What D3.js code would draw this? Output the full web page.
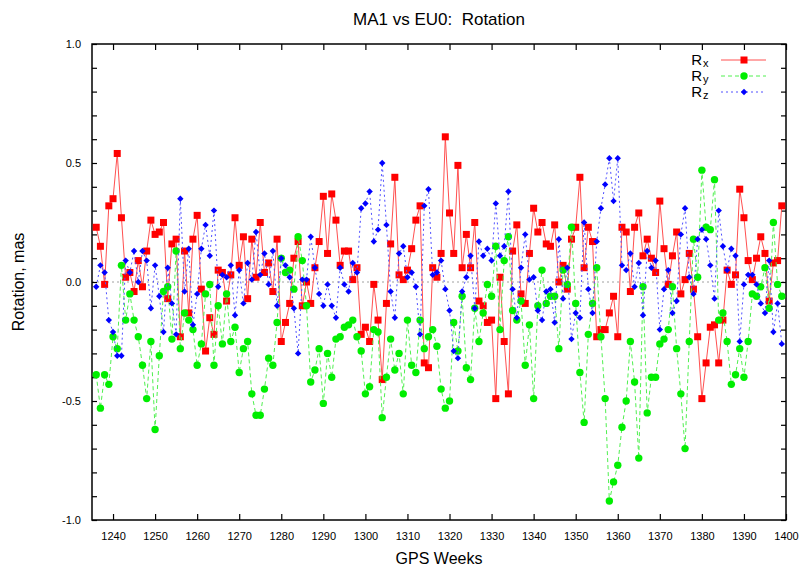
<html>
    <head>
        <meta charset="utf-8">
        <script src="https://d3js.org/d3.v7.min.js"></script>
        <title>MA1 vs EU0: Rotation</title>
        <style>
            body { margin: 0; background: white; }
            text { font-family: "Liberation Sans", Arial, sans-serif; }
        </style>
    </head>
    <body>
        <svg id="chart" height="569" width="801"></svg>
        <script>
            // GPS weeks and the three rotation series (mas)
            const weeks = [
                1236,1237,1238,1239,1240,1241,1242,1243,1244,1245,
                1246,1247,1248,1249,1250,1251,1252,1253,1254,1255,
                1256,1257,1258,1259,1260,1261,1262,1263,1264,1265,
                1266,1267,1268,1269,1270,1271,1272,1273,1274,1275,
                1276,1277,1278,1279,1280,1281,1282,1283,1284,1285,
                1286,1287,1288,1289,1290,1291,1292,1293,1294,1295,
                1296,1297,1298,1299,1300,1301,1302,1303,1304,1305,
                1306,1307,1308,1309,1310,1311,1312,1313,1314,1315,
                1316,1317,1318,1319,1320,1321,1322,1323,1324,1325,
                1326,1327,1328,1329,1330,1331,1332,1333,1334,1335,
                1336,1337,1338,1339,1340,1341,1342,1343,1344,1345,
                1346,1347,1348,1349,1350,1351,1352,1353,1354,1355,
                1356,1357,1358,1359,1360,1361,1362,1363,1364,1365,
                1366,1367,1368,1369,1370,1371,1372,1373,1374,1375,
                1376,1377,1378,1379,1380,1381,1382,1383,1384,1385,
                1386,1387,1388,1389,1390,1391,1392,1393,1394,1395,
                1396,1397,1398,1399
            ];
            const rx = [
                0.23, 0.15, -0.01, 0.32, 0.35, 0.54, 0.27, 0.02, 0.04, -0.04,
                0.09, -0.02, 0.13, 0.26, 0.20, 0.21, 0.25, -0.07, 0.16, 0.18,
                -0.23, 0.13, -0.13, 0.18, 0.28, -0.03, -0.29, -0.15, -0.22, 0.05,
                0.04, -0.08, 0.03, 0.27, 0.07, 0.19, -0.07, 0.18, 0.02, 0.25,
                0.04, 0.08, -0.04, 0.18, -0.25, -0.17, -0.09, 0.10, 0.17, -0.10,
                0.00, -0.09, 0.06, 0.17, 0.36, 0.12, 0.37, 0.26, 0.07, 0.13,
                0.13, 0.01, 0.06, -0.22, -0.19, -0.25, -0.01, -0.16, -0.41, -0.09,
                0.16, 0.44, 0.03, 0.01, 0.05, 0.14, 0.26, 0.32, -0.34, -0.36,
                0.06, 0.02, 0.12, 0.61, 0.29, 0.12, 0.49, 0.06, 0.20, 0.06,
                0.25, -0.08, -0.10, -0.17, -0.16, -0.49, 0.02, -0.25, -0.47, 0.13,
                0.24, -0.05, -0.09, 0.12, 0.31, 0.21, 0.25, 0.16, 0.15, 0.24,
                0.00, 0.07, -0.03, 0.18, 0.23, 0.44, 0.06, 0.23, 0.17, -0.23,
                -0.20, -0.20, -0.13, -0.06, -0.23, 0.23, 0.21, -0.04, 0.23, 0.29,
                0.11, 0.18, 0.10, 0.04, 0.34, 0.14, -0.01, 0.11, 0.21, -0.05,
                0.01, 0.12, -0.03, -0.23, -0.49, -0.34, -0.19, -0.18, -0.34, -0.16,
                0.05, -0.01, 0.03, 0.39, 0.27, 0.09, 0.01, 0.10, 0.19, 0.12,
                -0.08, 0.08, 0.09, 0.32
            ];
            const ry = [
                -0.39, -0.53, -0.39, -0.43, -0.23, -0.28, 0.07, -0.16, -0.05, -0.16,
                -0.23, -0.35, -0.49, -0.25, -0.62, -0.31, -0.04, -0.02, -0.24, 0.13,
                -0.28, -0.13, -0.16, -0.20, -0.35, -0.26, -0.05, -0.01, -0.35, -0.10,
                -0.26, -0.05, -0.25, -0.19, -0.38, -0.28, -0.25, -0.47, -0.56, -0.56,
                -0.45, -0.32, -0.35, -0.17, 0.10, 0.04, 0.05, -0.03, 0.19, 0.09,
                -0.10, -0.42, -0.37, -0.28, -0.51, -0.30, -0.40, -0.24, -0.23, -0.19,
                -0.18, -0.16, -0.23, -0.29, -0.47, -0.44, -0.20, -0.21, -0.57, -0.40,
                -0.24, -0.37, -0.30, -0.47, -0.16, -0.35, -0.38, -0.16, -0.28, -0.23,
                -0.20, -0.27, -0.45, -0.53, -0.50, -0.17, -0.29, -0.06, -0.36, -0.41,
                -0.11, -0.25, -0.13, -0.01, -0.06, 0.15, -0.20, 0.09, 0.19, -0.12,
                -0.16, -0.08, -0.35, -0.18, -0.49, -0.10, 0.05, -0.09, -0.06, -0.06,
                -0.28, 0.05, -0.01, 0.23, -0.09, -0.38, -0.59, -0.22, -0.09, 0.06,
                -0.23, -0.49, -0.92, -0.84, -0.77, -0.61, -0.50, -0.25, -0.42, -0.74,
                -0.02, -0.55, -0.40, -0.40, -0.26, -0.24, -0.20, -0.02, -0.28, -0.47,
                -0.70, -0.25, 0.18, 0.02, 0.47, 0.23, 0.22, 0.43, -0.16, -0.13,
                -0.25, -0.43, -0.39, -0.28, -0.40, -0.25, -0.05, -0.06, -0.02, 0.06,
                -0.11, 0.25, -0.01, -0.06
            ];
            const rz = [
                -0.02, 0.07, 0.04, -0.16, -0.21, -0.31, -0.31, 0.09, 0.04, 0.13,
                0.00, 0.13, 0.09, -0.11, 0.07, -0.06, -0.21, 0.06, -0.09, -0.22,
                0.35, -0.04, 0.14, -0.18, -0.05, 0.14, 0.24, 0.11, 0.30, -0.02,
                0.03, 0.02, 0.07, -0.14, 0.05, -0.09, 0.08, 0.01, 0.21, 0.03,
                0.12, -0.01, 0.13, -0.10, 0.10, 0.07, 0.02, -0.11, -0.30, 0.01,
                0.01, 0.19, 0.06, -0.05, -0.10, -0.01, -0.10, -0.15, 0.06, -0.01,
                -0.04, 0.08, 0.04, 0.31, 0.33, 0.38, 0.17, 0.22, 0.50, 0.24,
                -0.04, -0.15, 0.12, 0.15, 0.02, 0.04, -0.02, -0.22, 0.32, 0.39,
                0.03, 0.04, 0.09, -0.03, -0.12, -0.29, -0.32, -0.04, 0.02, 0.11,
                -0.11, 0.17, 0.11, 0.14, 0.09, 0.33, 0.11, 0.15, 0.38, -0.03,
                -0.15, 0.06, 0.20, 0.01, 0.02, -0.12, -0.16, -0.04, -0.03, -0.17,
                0.18, -0.07, 0.06, -0.24, -0.13, -0.15, 0.25, -0.03, -0.13, 0.17,
                0.31, 0.41, 0.52, 0.34, 0.52, 0.07, 0.05, 0.12, -0.02, 0.08,
                -0.14, 0.13, 0.06, 0.09, -0.20, -0.03, 0.05, -0.13, -0.08, 0.20,
                0.31, 0.02, -0.05, 0.18, 0.22, 0.18, 0.07, -0.07, 0.30, 0.15,
                0.05, 0.14, 0.11, -0.25, -0.01, 0.03, 0.03, -0.01, -0.09, -0.13,
                0.09, -0.21, -0.09, -0.26
            ];
            const xTicks = [1240, 1250, 1260, 1270, 1280, 1290, 1300, 1310, 1320, 1330, 1340, 1350, 1360, 1370, 1380, 1390, 1400];
            const yLabels = [-1.0, -0.5, 0.0, 0.5, 1.0];
            const seriesNames = ["x", "y", "z"];

            const svg = d3.select("#chart");
            const margin = { top: 44, right: 15, bottom: 49, left: 92 };
            const width = +svg.attr("width");
            const height = +svg.attr("height");
            const x0 = margin.left, x1 = width - margin.right;
            const y0 = margin.top, y1 = height - margin.bottom;

            const x = d3.scaleLinear().domain([1235, 1400]).range([x0, x1]);
            const y = d3.scaleLinear().domain([-1, 1]).range([y1, y0]);

            // title + axis titles
            svg.append("text")
               .attr("x", (x0 + x1) / 2).attr("y", 25)
               .attr("text-anchor", "middle")
               .attr("xml:space", "preserve")
               .style("white-space", "pre")
               .style("font-size", "17px")
               .text("MA1 vs EU0:  Rotation");
            svg.append("text")
               .attr("x", (x0 + x1) / 2).attr("y", 564)
               .attr("text-anchor", "middle")
               .style("font-size", "16px")
               .text("GPS Weeks");
            svg.append("text")
               .attr("transform", "translate(24," + ((y0 + y1) / 2) + ") rotate(-90)")
               .attr("text-anchor", "middle")
               .style("font-size", "16px")
               .text("Rotation, mas");

            // zero line
            svg.append("line")
               .attr("x1", x0).attr("x2", x1)
               .attr("y1", y(0)).attr("y2", y(0))
               .attr("stroke", "#a0a0a0")
               .attr("stroke-width", 1)
               .attr("stroke-dasharray", "2,3");

            // axes (ticks pointing inward)
            const yTickVals = y.ticks(20);
            const yFmt = d => yLabels.some(v => Math.abs(v - d) < 1e-9) ? d.toFixed(1) : "";

            const gx = svg.append("g").attr("transform", "translate(0," + y1 + ")")
                .call(d3.axisBottom(x).tickValues(xTicks).tickSizeInner(-6).tickSizeOuter(0)
                        .tickPadding(12).tickFormat(d3.format("d")));
            const gxt = svg.append("g").attr("transform", "translate(0," + y0 + ")")
                .call(d3.axisTop(x).tickValues(xTicks).tickSizeInner(-6).tickSizeOuter(0).tickFormat(""));
            const gy = svg.append("g").attr("transform", "translate(" + x0 + ",0)")
                .call(d3.axisLeft(y).tickValues(yTickVals).tickSizeInner(-5).tickSizeOuter(0)
                        .tickPadding(11).tickFormat(yFmt));
            const gyr = svg.append("g").attr("transform", "translate(" + x1 + ",0)")
                .call(d3.axisRight(y).tickValues(yTickVals).tickSizeInner(-5).tickSizeOuter(0).tickFormat(""));

            [gx, gxt, gy, gyr].forEach(g => {
                g.select(".domain").remove();
                g.selectAll(".tick line").attr("stroke", "#000").attr("stroke-width", 1.2);
                g.selectAll(".tick text").attr("fill", "#000")
                 .style("font-family", "'Liberation Sans', Arial, sans-serif")
                 .style("font-size", "11px");
            });

            // frame
            svg.append("rect")
               .attr("x", x0).attr("y", y0)
               .attr("width", x1 - x0).attr("height", y1 - y0)
               .attr("fill", "none").attr("stroke", "#000").attr("stroke-width", 1.5);

            const series = [
                { key: "x", values: rx, color: "#ff0000", line: "#ff5050", dash: null },
                { key: "y", values: ry, color: "#00ee00", line: "#50f050", dash: "4,3" },
                { key: "z", values: rz, color: "#0000ff", line: "#5050ff", dash: "2,3" }
            ];

            const plot = svg.append("g");
            const lineGen = (vals) => d3.line()
                .x((d, i) => x(weeks[i]))
                .y(d => y(d))(vals);

            function drawMarker(sel, key, color) {
                if (key === "x") {
                    sel.append("rect").attr("x", -3.5).attr("y", -3.5)
                       .attr("width", 7).attr("height", 7).attr("fill", color);
                } else if (key === "y") {
                    sel.append("circle").attr("r", 3.7).attr("fill", color);
                } else {
                    sel.append("path").attr("d", "M0,-3.2L3.2,0L0,3.2L-3.2,0Z").attr("fill", color);
                }
            }

            series.forEach(s => {
                const g = plot.append("g").attr("class", "series-" + s.key);
                g.append("path")
                 .attr("d", lineGen(s.values))
                 .attr("fill", "none")
                 .attr("stroke", s.line)
                 .attr("stroke-width", 1)
                 .attr("stroke-dasharray", s.dash);
                g.selectAll("g.pt")
                 .data(s.values)
                 .join("g")
                 .attr("class", "pt")
                 .attr("transform", (d, i) => "translate(" + x(weeks[i]) + "," + y(d) + ")")
                 .each(function () { drawMarker(d3.select(this), s.key, s.color); });
            });

            // legend: "R" with a subscript, right aligned before the sample line
            const legend = svg.append("g");
            const legendY = [60, 76, 92];
            series.forEach((s, i) => {
                const row = legend.append("g").attr("transform", "translate(0," + legendY[i] + ")");
                row.append("text")
                    .attr("x", 702).attr("y", 5)
                    .attr("text-anchor", "end")
                    .style("font-size", "15px")
                    .text("R");
                row.append("text")
                    .attr("x", 703).attr("y", 7)
                    .style("font-size", "11px")
                    .text(seriesNames[i]);
                row.append("line")
                   .attr("x1", 721).attr("x2", 766)
                   .attr("y1", 0).attr("y2", 0)
                   .attr("stroke", s.line).attr("stroke-width", 1)
                   .attr("stroke-dasharray", s.dash);
                const m = row.append("g").attr("transform", "translate(744,0)");
                drawMarker(m, s.key, s.color);
            });
        </script>
    </body>
</html>
